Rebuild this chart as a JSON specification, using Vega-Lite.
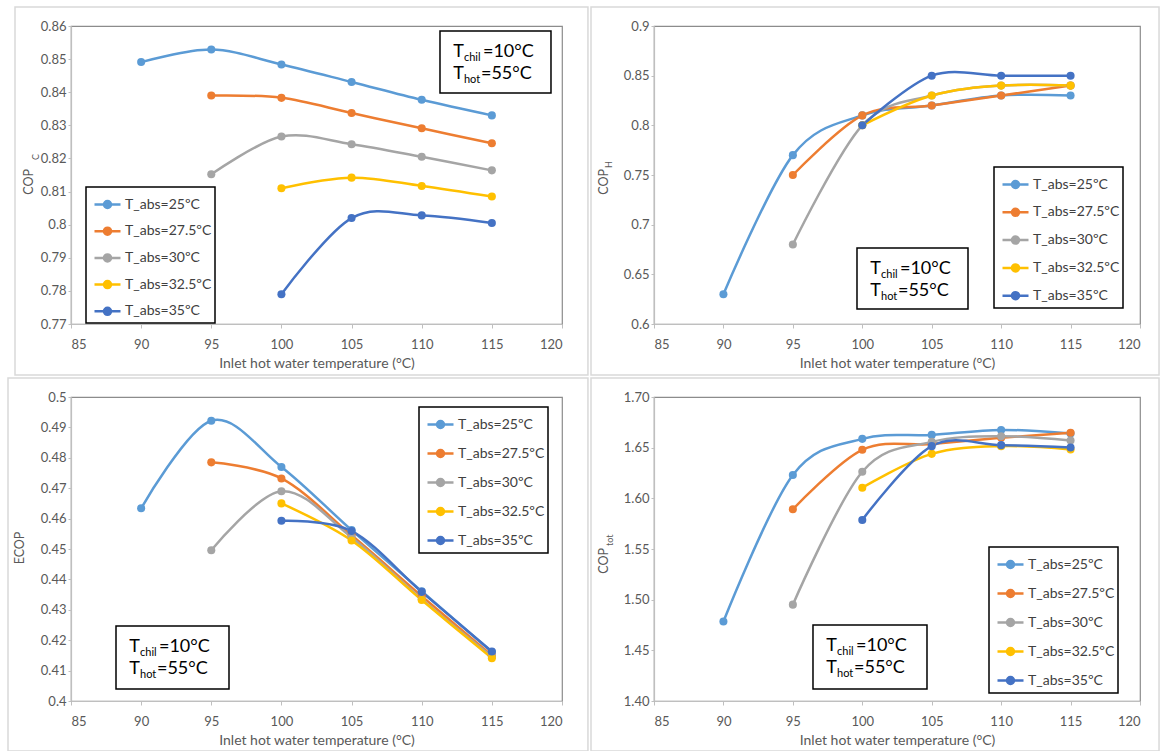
{
  "$schema": "https://vega.github.io/schema/vega-lite/v6.json",
  "background": "white",
  "padding": {"left": 6, "top": 5, "right": 5, "bottom": 0},
  "bounds": "flush",
  "columns": 2,
  "spacing": {"row": 73, "column": 92},
  "resolve": {"scale": {"color": "shared"}, "legend": {"color": "independent"}},
  "datasets": {
    "copc": [
      {"temp": 90, "series": "T_abs=25ºC", "value": 0.8491},
      {"temp": 95, "series": "T_abs=25ºC", "value": 0.8529},
      {"temp": 100, "series": "T_abs=25ºC", "value": 0.8484},
      {"temp": 105, "series": "T_abs=25ºC", "value": 0.8431},
      {"temp": 110, "series": "T_abs=25ºC", "value": 0.8377},
      {"temp": 115, "series": "T_abs=25ºC", "value": 0.8330},
      {"temp": 95, "series": "T_abs=27.5ºC", "value": 0.8390},
      {"temp": 100, "series": "T_abs=27.5ºC", "value": 0.8383},
      {"temp": 105, "series": "T_abs=27.5ºC", "value": 0.8337},
      {"temp": 110, "series": "T_abs=27.5ºC", "value": 0.8291},
      {"temp": 115, "series": "T_abs=27.5ºC", "value": 0.8246},
      {"temp": 95, "series": "T_abs=30ºC", "value": 0.8152},
      {"temp": 100, "series": "T_abs=30ºC", "value": 0.8266},
      {"temp": 105, "series": "T_abs=30ºC", "value": 0.8243},
      {"temp": 110, "series": "T_abs=30ºC", "value": 0.8205},
      {"temp": 115, "series": "T_abs=30ºC", "value": 0.8164},
      {"temp": 100, "series": "T_abs=32.5ºC", "value": 0.8110},
      {"temp": 105, "series": "T_abs=32.5ºC", "value": 0.8142},
      {"temp": 110, "series": "T_abs=32.5ºC", "value": 0.8117},
      {"temp": 115, "series": "T_abs=32.5ºC", "value": 0.8085},
      {"temp": 100, "series": "T_abs=35ºC", "value": 0.7790},
      {"temp": 105, "series": "T_abs=35ºC", "value": 0.8020},
      {"temp": 110, "series": "T_abs=35ºC", "value": 0.8028},
      {"temp": 115, "series": "T_abs=35ºC", "value": 0.8005}
    ],
    "coph": [
      {"temp": 90, "series": "T_abs=25ºC", "value": 0.63},
      {"temp": 95, "series": "T_abs=25ºC", "value": 0.77},
      {"temp": 100, "series": "T_abs=25ºC", "value": 0.81},
      {"temp": 105, "series": "T_abs=25ºC", "value": 0.82},
      {"temp": 110, "series": "T_abs=25ºC", "value": 0.83},
      {"temp": 115, "series": "T_abs=25ºC", "value": 0.83},
      {"temp": 95, "series": "T_abs=27.5ºC", "value": 0.75},
      {"temp": 100, "series": "T_abs=27.5ºC", "value": 0.81},
      {"temp": 105, "series": "T_abs=27.5ºC", "value": 0.82},
      {"temp": 110, "series": "T_abs=27.5ºC", "value": 0.83},
      {"temp": 115, "series": "T_abs=27.5ºC", "value": 0.84},
      {"temp": 95, "series": "T_abs=30ºC", "value": 0.68},
      {"temp": 100, "series": "T_abs=30ºC", "value": 0.80},
      {"temp": 105, "series": "T_abs=30ºC", "value": 0.83},
      {"temp": 110, "series": "T_abs=30ºC", "value": 0.84},
      {"temp": 115, "series": "T_abs=30ºC", "value": 0.84},
      {"temp": 100, "series": "T_abs=32.5ºC", "value": 0.80},
      {"temp": 105, "series": "T_abs=32.5ºC", "value": 0.83},
      {"temp": 110, "series": "T_abs=32.5ºC", "value": 0.84},
      {"temp": 115, "series": "T_abs=32.5ºC", "value": 0.84},
      {"temp": 100, "series": "T_abs=35ºC", "value": 0.80},
      {"temp": 105, "series": "T_abs=35ºC", "value": 0.85},
      {"temp": 110, "series": "T_abs=35ºC", "value": 0.85},
      {"temp": 115, "series": "T_abs=35ºC", "value": 0.85}
    ],
    "ecop": [
      {"temp": 90, "series": "T_abs=25ºC", "value": 0.4634},
      {"temp": 95, "series": "T_abs=25ºC", "value": 0.4922},
      {"temp": 100, "series": "T_abs=25ºC", "value": 0.4770},
      {"temp": 105, "series": "T_abs=25ºC", "value": 0.4562},
      {"temp": 110, "series": "T_abs=25ºC", "value": 0.4361},
      {"temp": 115, "series": "T_abs=25ºC", "value": 0.4161},
      {"temp": 95, "series": "T_abs=27.5ºC", "value": 0.4785},
      {"temp": 100, "series": "T_abs=27.5ºC", "value": 0.4732},
      {"temp": 105, "series": "T_abs=27.5ºC", "value": 0.4545},
      {"temp": 110, "series": "T_abs=27.5ºC", "value": 0.4345},
      {"temp": 115, "series": "T_abs=27.5ºC", "value": 0.4150},
      {"temp": 95, "series": "T_abs=30ºC", "value": 0.4496},
      {"temp": 100, "series": "T_abs=30ºC", "value": 0.4690},
      {"temp": 105, "series": "T_abs=30ºC", "value": 0.4538},
      {"temp": 110, "series": "T_abs=30ºC", "value": 0.4335},
      {"temp": 115, "series": "T_abs=30ºC", "value": 0.4146},
      {"temp": 100, "series": "T_abs=32.5ºC", "value": 0.4650},
      {"temp": 105, "series": "T_abs=32.5ºC", "value": 0.4528},
      {"temp": 110, "series": "T_abs=32.5ºC", "value": 0.4332},
      {"temp": 115, "series": "T_abs=32.5ºC", "value": 0.4141},
      {"temp": 100, "series": "T_abs=35ºC", "value": 0.4593},
      {"temp": 105, "series": "T_abs=35ºC", "value": 0.4559},
      {"temp": 110, "series": "T_abs=35ºC", "value": 0.4359},
      {"temp": 115, "series": "T_abs=35ºC", "value": 0.4163}
    ],
    "coptot": [
      {"temp": 90, "series": "T_abs=25ºC", "value": 1.4784},
      {"temp": 95, "series": "T_abs=25ºC", "value": 1.6230},
      {"temp": 100, "series": "T_abs=25ºC", "value": 1.6587},
      {"temp": 105, "series": "T_abs=25ºC", "value": 1.6626},
      {"temp": 110, "series": "T_abs=25ºC", "value": 1.6675},
      {"temp": 115, "series": "T_abs=25ºC", "value": 1.6640},
      {"temp": 95, "series": "T_abs=27.5ºC", "value": 1.5892},
      {"temp": 100, "series": "T_abs=27.5ºC", "value": 1.6479},
      {"temp": 105, "series": "T_abs=27.5ºC", "value": 1.6535},
      {"temp": 110, "series": "T_abs=27.5ºC", "value": 1.6597},
      {"temp": 115, "series": "T_abs=27.5ºC", "value": 1.6646},
      {"temp": 95, "series": "T_abs=30ºC", "value": 1.4951},
      {"temp": 100, "series": "T_abs=30ºC", "value": 1.6262},
      {"temp": 105, "series": "T_abs=30ºC", "value": 1.6557},
      {"temp": 110, "series": "T_abs=30ºC", "value": 1.6613},
      {"temp": 115, "series": "T_abs=30ºC", "value": 1.6570},
      {"temp": 100, "series": "T_abs=32.5ºC", "value": 1.6105},
      {"temp": 105, "series": "T_abs=32.5ºC", "value": 1.6439},
      {"temp": 110, "series": "T_abs=32.5ºC", "value": 1.6515},
      {"temp": 115, "series": "T_abs=32.5ºC", "value": 1.6482},
      {"temp": 100, "series": "T_abs=35ºC", "value": 1.5787},
      {"temp": 105, "series": "T_abs=35ºC", "value": 1.6515},
      {"temp": 110, "series": "T_abs=35ºC", "value": 1.6525},
      {"temp": 115, "series": "T_abs=35ºC", "value": 1.6502}
    ]
  },
  "concat": [
    {
      "width": 491, "height": 298,
      "layer": [
        {"data": {"values": [{}]}, "mark": {"type": "rect", "filled": false, "stroke": "#d9d9d9", "strokeWidth": 1.5},
         "encoding": {"x": {"datum": 81.008, "type": "quantitative"}, "x2": {"datum": 121.85}, "y": {"datum": 0.86574, "type": "quantitative"}, "y2": {"datum": 0.7546}}},
        {"data": {"name": "copc"},
         "encoding": {
           "x": {"field": "temp", "type": "quantitative", "scale": {"domain": [85, 120], "nice": false, "zero": false}, "axis": {"values": [85, 90, 95, 100, 105, 110, 115, 120], "tickCount": 20, "title": "Inlet hot water temperature (°C)"}},
           "y": {"field": "value", "type": "quantitative", "scale": {"domain": [0.77, 0.86], "nice": false, "zero": false}, "axis": {"values": [0.77, 0.78, 0.79, 0.8, 0.81, 0.82, 0.83, 0.84, 0.85, 0.86], "tickCount": 20, "format": ".2~f", "title": null}},
           "color": {"field": "series", "type": "nominal",
             "scale": {"domain": ["T_abs=25ºC", "T_abs=27.5ºC", "T_abs=30ºC", "T_abs=32.5ºC", "T_abs=35ºC"], "range": ["#5B9BD5", "#ED7D31", "#A5A5A5", "#FFC000", "#4472C4"]},
             "legend": {"title": null, "orient": "none", "legendX": 15, "legendY": 161, "rowPadding": 2.7,
               "symbolType": "M-1,0H1M0.27,0A0.27,0.27,0,1,1,-0.27,0A0.27,0.27,0,1,1,0.27,0Z",
               "encode": {"symbols": {"update": {"fill": {"scale": "color", "field": "value"}, "stroke": {"scale": "color", "field": "value"}}}, "legend": {"update": {"strokeWidth": {"value": 1.5}}}}}}
         },
         "layer": [
           {"mark": {"type": "line", "interpolate": "cardinal", "strokeWidth": 2.5}},
           {"mark": {"type": "point", "filled": true, "size": 65, "opacity": 1}}
         ]},
        {"data": {"values": [{}]},
         "layer": [
           {"mark": {"type": "rect", "fill": "white", "stroke": "black", "strokeWidth": 1.5},
            "encoding": {"x": {"datum": 111.303, "type": "quantitative"}, "x2": {"datum": 119.215}, "y": {"datum": 0.85849, "type": "quantitative"}, "y2": {"datum": 0.83977}}},
           {"mark": {"type": "text", "text": "T", "align": "right", "baseline": "alphabetic", "font": "Lato", "fontSize": 18, "color": "black"},
            "encoding": {"x": {"datum": 113.013, "type": "quantitative"}, "y": {"datum": 0.85064, "type": "quantitative"}}},
           {"mark": {"type": "text", "text": "chil", "align": "left", "baseline": "alphabetic", "dy": 4, "font": "Lato", "fontSize": 11, "color": "black"},
            "encoding": {"x": {"datum": 113.013, "type": "quantitative"}, "y": {"datum": 0.85064, "type": "quantitative"}}},
           {"mark": {"type": "text", "text": "=10°C", "align": "left", "baseline": "alphabetic", "dx": 19, "font": "Lato", "fontSize": 18, "color": "black"},
            "encoding": {"x": {"datum": 113.013, "type": "quantitative"}, "y": {"datum": 0.85064, "type": "quantitative"}}},
           {"mark": {"type": "text", "text": "T", "align": "right", "baseline": "alphabetic", "font": "Lato", "fontSize": 18, "color": "black"},
            "encoding": {"x": {"datum": 113.013, "type": "quantitative"}, "y": {"datum": 0.84399, "type": "quantitative"}}},
           {"mark": {"type": "text", "text": "hot", "align": "left", "baseline": "alphabetic", "dy": 4, "font": "Lato", "fontSize": 11, "color": "black"},
            "encoding": {"x": {"datum": 113.013, "type": "quantitative"}, "y": {"datum": 0.84399, "type": "quantitative"}}},
           {"mark": {"type": "text", "text": "=55°C", "align": "left", "baseline": "alphabetic", "dx": 17, "font": "Lato", "fontSize": 18, "color": "black"},
            "encoding": {"x": {"datum": 113.013, "type": "quantitative"}, "y": {"datum": 0.84399, "type": "quantitative"}}},
           {"mark": {"type": "text", "text": "COP", "align": "right", "baseline": "middle", "angle": 270, "dy": -42, "font": "Lato", "fontSize": 12.5, "color": "#595959"},
            "encoding": {"x": {"datum": 85, "type": "quantitative"}, "y": {"datum": 0.81681, "type": "quantitative"}}},
           {"mark": {"type": "text", "text": "C", "align": "left", "baseline": "middle", "angle": 270, "dx": 9, "dy": -35, "font": "Lato", "fontSize": 9, "color": "#595959"},
            "encoding": {"x": {"datum": 85, "type": "quantitative"}, "y": {"datum": 0.81681, "type": "quantitative"}}}
         ]}
      ]
    },
    {
      "width": 486, "height": 298,
      "layer": [
        {"data": {"values": [{}]}, "mark": {"type": "rect", "filled": false, "stroke": "#d9d9d9", "strokeWidth": 1.5},
         "encoding": {"x": {"datum": 80.463, "type": "quantitative"}, "x2": {"datum": 121.37}, "y": {"datum": 0.91913, "type": "quantitative"}, "y2": {"datum": 0.54866}}},
        {"data": {"name": "coph"},
         "encoding": {
           "x": {"field": "temp", "type": "quantitative", "scale": {"domain": [85, 120], "nice": false, "zero": false}, "axis": {"values": [85, 90, 95, 100, 105, 110, 115, 120], "tickCount": 20, "title": "Inlet hot water temperature (°C)"}},
           "y": {"field": "value", "type": "quantitative", "scale": {"domain": [0.6, 0.9], "nice": false, "zero": false}, "axis": {"values": [0.6, 0.65, 0.7, 0.75, 0.8, 0.85, 0.9], "tickCount": 20, "format": ".2~f", "title": null}},
           "color": {"field": "series", "type": "nominal",
             "scale": {"domain": ["T_abs=25ºC", "T_abs=27.5ºC", "T_abs=30ºC", "T_abs=32.5ºC", "T_abs=35ºC"], "range": ["#5B9BD5", "#ED7D31", "#A5A5A5", "#FFC000", "#4472C4"]},
             "legend": {"title": null, "orient": "none", "legendX": 340, "legendY": 141, "rowPadding": 3.8,
               "symbolType": "M-1,0H1M0.27,0A0.27,0.27,0,1,1,-0.27,0A0.27,0.27,0,1,1,0.27,0Z",
               "encode": {"symbols": {"update": {"fill": {"scale": "color", "field": "value"}, "stroke": {"scale": "color", "field": "value"}}}, "legend": {"update": {"strokeWidth": {"value": 1.5}}}}}}
         },
         "layer": [
           {"mark": {"type": "line", "interpolate": "cardinal", "strokeWidth": 2.5}},
           {"mark": {"type": "point", "filled": true, "size": 65, "opacity": 1}}
         ]},
        {"data": {"values": [{}]},
         "layer": [
           {"mark": {"type": "rect", "fill": "white", "stroke": "black", "strokeWidth": 1.5},
            "encoding": {"x": {"datum": 99.619, "type": "quantitative"}, "x2": {"datum": 107.613}, "y": {"datum": 0.67651, "type": "quantitative"}, "y2": {"datum": 0.6151}}},
           {"mark": {"type": "text", "text": "T", "align": "right", "baseline": "alphabetic", "font": "Lato", "fontSize": 18, "color": "black"},
            "encoding": {"x": {"datum": 101.347, "type": "quantitative"}, "y": {"datum": 0.65034, "type": "quantitative"}}},
           {"mark": {"type": "text", "text": "chil", "align": "left", "baseline": "alphabetic", "dy": 4, "font": "Lato", "fontSize": 11, "color": "black"},
            "encoding": {"x": {"datum": 101.347, "type": "quantitative"}, "y": {"datum": 0.65034, "type": "quantitative"}}},
           {"mark": {"type": "text", "text": "=10°C", "align": "left", "baseline": "alphabetic", "dx": 19, "font": "Lato", "fontSize": 18, "color": "black"},
            "encoding": {"x": {"datum": 101.347, "type": "quantitative"}, "y": {"datum": 0.65034, "type": "quantitative"}}},
           {"mark": {"type": "text", "text": "T", "align": "right", "baseline": "alphabetic", "font": "Lato", "fontSize": 18, "color": "black"},
            "encoding": {"x": {"datum": 101.347, "type": "quantitative"}, "y": {"datum": 0.62819, "type": "quantitative"}}},
           {"mark": {"type": "text", "text": "hot", "align": "left", "baseline": "alphabetic", "dy": 4, "font": "Lato", "fontSize": 11, "color": "black"},
            "encoding": {"x": {"datum": 101.347, "type": "quantitative"}, "y": {"datum": 0.62819, "type": "quantitative"}}},
           {"mark": {"type": "text", "text": "=55°C", "align": "left", "baseline": "alphabetic", "dx": 17, "font": "Lato", "fontSize": 18, "color": "black"},
            "encoding": {"x": {"datum": 101.347, "type": "quantitative"}, "y": {"datum": 0.62819, "type": "quantitative"}}},
           {"mark": {"type": "text", "text": "COP", "align": "right", "baseline": "middle", "angle": 270, "dy": -50, "font": "Lato", "fontSize": 12.5, "color": "#595959"},
            "encoding": {"x": {"datum": 85, "type": "quantitative"}, "y": {"datum": 0.75604, "type": "quantitative"}}},
           {"mark": {"type": "text", "text": "H", "align": "left", "baseline": "middle", "angle": 270, "dx": 1, "dy": -45, "font": "Lato", "fontSize": 9, "color": "#595959"},
            "encoding": {"x": {"datum": 85, "type": "quantitative"}, "y": {"datum": 0.75604, "type": "quantitative"}}}
         ]}
      ]
    },
    {
      "width": 491, "height": 304,
      "layer": [
        {"data": {"values": [{}]}, "mark": {"type": "rect", "filled": false, "stroke": "#d9d9d9", "strokeWidth": 1.5},
         "encoding": {"x": {"datum": 80.509, "type": "quantitative"}, "x2": {"datum": 121.85}, "y": {"datum": 0.50625, "type": "quantitative"}, "y2": {"datum": 0.38355}}},
        {"data": {"name": "ecop"},
         "encoding": {
           "x": {"field": "temp", "type": "quantitative", "scale": {"domain": [85, 120], "nice": false, "zero": false}, "axis": {"values": [85, 90, 95, 100, 105, 110, 115, 120], "tickCount": 20, "title": "Inlet hot water temperature (°C)"}},
           "y": {"field": "value", "type": "quantitative", "scale": {"domain": [0.4, 0.5], "nice": false, "zero": false}, "axis": {"values": [0.4, 0.41, 0.42, 0.43, 0.44, 0.45, 0.46, 0.47, 0.48, 0.49, 0.5], "tickCount": 20, "format": ".2~f", "title": null}},
           "color": {"field": "series", "type": "nominal",
             "scale": {"domain": ["T_abs=25ºC", "T_abs=27.5ºC", "T_abs=30ºC", "T_abs=32.5ºC", "T_abs=35ºC"], "range": ["#5B9BD5", "#ED7D31", "#A5A5A5", "#FFC000", "#4472C4"]},
             "legend": {"title": null, "orient": "none", "legendX": 348, "legendY": 10, "rowPadding": 5,
               "symbolType": "M-1,0H1M0.27,0A0.27,0.27,0,1,1,-0.27,0A0.27,0.27,0,1,1,0.27,0Z",
               "encode": {"symbols": {"update": {"fill": {"scale": "color", "field": "value"}, "stroke": {"scale": "color", "field": "value"}}}, "legend": {"update": {"strokeWidth": {"value": 1.5}}}}}}
         },
         "layer": [
           {"mark": {"type": "line", "interpolate": "cardinal", "strokeWidth": 2.5}},
           {"mark": {"type": "point", "filled": true, "size": 65, "opacity": 1}}
         ]},
        {"data": {"values": [{}]},
         "layer": [
           {"mark": {"type": "rect", "fill": "white", "stroke": "black", "strokeWidth": 1.5},
            "encoding": {"x": {"datum": 88.208, "type": "quantitative"}, "x2": {"datum": 96.263}, "y": {"datum": 0.42467, "type": "quantitative"}, "y2": {"datum": 0.40395}}},
           {"mark": {"type": "text", "text": "T", "align": "right", "baseline": "alphabetic", "font": "Lato", "fontSize": 18, "color": "black"},
            "encoding": {"x": {"datum": 89.918, "type": "quantitative"}, "y": {"datum": 0.41612, "type": "quantitative"}}},
           {"mark": {"type": "text", "text": "chil", "align": "left", "baseline": "alphabetic", "dy": 4, "font": "Lato", "fontSize": 11, "color": "black"},
            "encoding": {"x": {"datum": 89.918, "type": "quantitative"}, "y": {"datum": 0.41612, "type": "quantitative"}}},
           {"mark": {"type": "text", "text": "=10°C", "align": "left", "baseline": "alphabetic", "dx": 19, "font": "Lato", "fontSize": 18, "color": "black"},
            "encoding": {"x": {"datum": 89.918, "type": "quantitative"}, "y": {"datum": 0.41612, "type": "quantitative"}}},
           {"mark": {"type": "text", "text": "T", "align": "right", "baseline": "alphabetic", "font": "Lato", "fontSize": 18, "color": "black"},
            "encoding": {"x": {"datum": 89.918, "type": "quantitative"}, "y": {"datum": 0.40888, "type": "quantitative"}}},
           {"mark": {"type": "text", "text": "hot", "align": "left", "baseline": "alphabetic", "dy": 4, "font": "Lato", "fontSize": 11, "color": "black"},
            "encoding": {"x": {"datum": 89.918, "type": "quantitative"}, "y": {"datum": 0.40888, "type": "quantitative"}}},
           {"mark": {"type": "text", "text": "=55°C", "align": "left", "baseline": "alphabetic", "dx": 17, "font": "Lato", "fontSize": 18, "color": "black"},
            "encoding": {"x": {"datum": 89.918, "type": "quantitative"}, "y": {"datum": 0.40888, "type": "quantitative"}}},
           {"mark": {"type": "text", "text": "ECOP", "align": "center", "baseline": "middle", "angle": 270, "dy": -51, "font": "Lato", "fontSize": 12.5, "color": "#595959"},
            "encoding": {"x": {"datum": 85, "type": "quantitative"}, "y": {"datum": 0.45033, "type": "quantitative"}}}
         ]}
      ]
    },
    {
      "width": 486, "height": 304,
      "layer": [
        {"data": {"values": [{}]}, "mark": {"type": "rect", "filled": false, "stroke": "#d9d9d9", "strokeWidth": 1.5},
         "encoding": {"x": {"datum": 80.463, "type": "quantitative"}, "x2": {"datum": 121.37}, "y": {"datum": 1.71875, "type": "quantitative"}, "y2": {"datum": 1.35066}}},
        {"data": {"name": "coptot"},
         "encoding": {
           "x": {"field": "temp", "type": "quantitative", "scale": {"domain": [85, 120], "nice": false, "zero": false}, "axis": {"values": [85, 90, 95, 100, 105, 110, 115, 120], "tickCount": 20, "title": "Inlet hot water temperature (°C)"}},
           "y": {"field": "value", "type": "quantitative", "scale": {"domain": [1.4, 1.7], "nice": false, "zero": false}, "axis": {"values": [1.4, 1.45, 1.5, 1.55, 1.6, 1.65, 1.7], "tickCount": 20, "format": ".2f", "title": null}},
           "color": {"field": "series", "type": "nominal",
             "scale": {"domain": ["T_abs=25ºC", "T_abs=27.5ºC", "T_abs=30ºC", "T_abs=32.5ºC", "T_abs=35ºC"], "range": ["#5B9BD5", "#ED7D31", "#A5A5A5", "#FFC000", "#4472C4"]},
             "legend": {"title": null, "orient": "none", "legendX": 335, "legendY": 150, "rowPadding": 5,
               "symbolType": "M-1,0H1M0.27,0A0.27,0.27,0,1,1,-0.27,0A0.27,0.27,0,1,1,0.27,0Z",
               "encode": {"symbols": {"update": {"fill": {"scale": "color", "field": "value"}, "stroke": {"scale": "color", "field": "value"}}}, "legend": {"update": {"strokeWidth": {"value": 1.5}}}}}}
         },
         "layer": [
           {"mark": {"type": "line", "interpolate": "cardinal", "strokeWidth": 2.5}},
           {"mark": {"type": "point", "filled": true, "size": 65, "opacity": 1}}
         ]},
        {"data": {"values": [{}]},
         "layer": [
           {"mark": {"type": "rect", "fill": "white", "stroke": "black", "strokeWidth": 1.5},
            "encoding": {"x": {"datum": 96.45, "type": "quantitative"}, "x2": {"datum": 104.66}, "y": {"datum": 1.475, "type": "quantitative"}, "y2": {"datum": 1.41184}}},
           {"mark": {"type": "text", "text": "T", "align": "right", "baseline": "alphabetic", "font": "Lato", "fontSize": 18, "color": "black"},
            "encoding": {"x": {"datum": 98.179, "type": "quantitative"}, "y": {"datum": 1.44934, "type": "quantitative"}}},
           {"mark": {"type": "text", "text": "chil", "align": "left", "baseline": "alphabetic", "dy": 4, "font": "Lato", "fontSize": 11, "color": "black"},
            "encoding": {"x": {"datum": 98.179, "type": "quantitative"}, "y": {"datum": 1.44934, "type": "quantitative"}}},
           {"mark": {"type": "text", "text": "=10°C", "align": "left", "baseline": "alphabetic", "dx": 19, "font": "Lato", "fontSize": 18, "color": "black"},
            "encoding": {"x": {"datum": 98.179, "type": "quantitative"}, "y": {"datum": 1.44934, "type": "quantitative"}}},
           {"mark": {"type": "text", "text": "T", "align": "right", "baseline": "alphabetic", "font": "Lato", "fontSize": 18, "color": "black"},
            "encoding": {"x": {"datum": 98.179, "type": "quantitative"}, "y": {"datum": 1.42763, "type": "quantitative"}}},
           {"mark": {"type": "text", "text": "hot", "align": "left", "baseline": "alphabetic", "dy": 4, "font": "Lato", "fontSize": 11, "color": "black"},
            "encoding": {"x": {"datum": 98.179, "type": "quantitative"}, "y": {"datum": 1.42763, "type": "quantitative"}}},
           {"mark": {"type": "text", "text": "=55°C", "align": "left", "baseline": "alphabetic", "dx": 17, "font": "Lato", "fontSize": 18, "color": "black"},
            "encoding": {"x": {"datum": 98.179, "type": "quantitative"}, "y": {"datum": 1.42763, "type": "quantitative"}}},
           {"mark": {"type": "text", "text": "COP", "align": "right", "baseline": "middle", "angle": 270, "dy": -50, "font": "Lato", "fontSize": 12.5, "color": "#595959"},
            "encoding": {"x": {"datum": 85, "type": "quantitative"}, "y": {"datum": 1.55099, "type": "quantitative"}}},
           {"mark": {"type": "text", "text": "tot", "align": "left", "baseline": "middle", "angle": 270, "dx": 2, "dy": -44, "font": "Lato", "fontSize": 9, "color": "#595959"},
            "encoding": {"x": {"datum": 85, "type": "quantitative"}, "y": {"datum": 1.55099, "type": "quantitative"}}}
         ]}
      ]
    }
  ],
  "config": {
    "font": "Lato",
    "view": {"stroke": "#8c8c8c", "strokeWidth": 1.2},
    "axis": {"grid": false, "domainColor": "#bfbfbf", "domainWidth": 1.2, "tickColor": "#bfbfbf", "tickSize": 4, "labelOverlap": false,
      "labelFont": "Lato", "labelFontSize": 13, "labelColor": "#595959",
      "titleFont": "Lato", "titleFontSize": 14, "titleFontWeight": "normal", "titleColor": "#595959"},
    "axisX": {"labelPadding": 10, "titlePadding": 5},
    "axisY": {"labelPadding": 2, "tickSize": 3},
    "legend": {"strokeColor": "black", "fillColor": "white", "padding": 3, "symbolOffset": 4,
      "symbolSize": 676, "symbolStrokeWidth": 2.5, "labelFont": "Lato", "labelFontSize": 14, "labelColor": "#404040", "labelOffset": 3}
  }
}
